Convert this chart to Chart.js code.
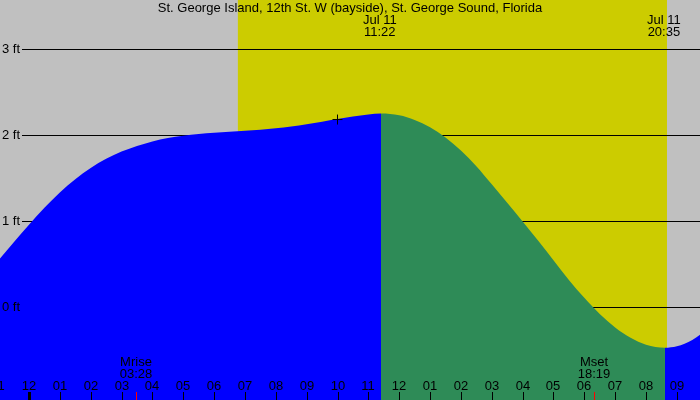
<!DOCTYPE html>
<html>
<head>
<meta charset="utf-8">
<script src="https://cdn.jsdelivr.net/npm/chart.js@4/dist/chart.umd.min.js"></script>
<style>
  body { margin: 0; background: #c0c0c0; }
  #wrap { width: 700px; height: 400px; }
</style>
</head>
<body>
<div id="wrap"><canvas id="tideChart"></canvas></div>
<script>
// tide height (ft) every half hour of Jul 11 (negative = previous evening), plus high/low tide
const tideHours = [-1, -0.5, 0, 0.5, 1, 1.5, 2, 2.5, 3, 3.5, 4, 4.5, 5, 5.5, 6, 6.5, 7, 7.5, 8, 8.5, 9, 9.5, 10, 10.5, 11, 11.41,
                   12, 12.5, 13, 13.5, 14, 14.5, 15, 15.5, 16, 16.5, 17, 17.5, 18, 18.5, 19, 19.5, 20, 20.615,
                   21, 21.5, 22];
const tideFeet  = [0.539, 0.751, 0.958, 1.155, 1.333, 1.487, 1.618, 1.723, 1.807, 1.873, 1.926, 1.965, 1.992, 2.011,
                   2.025, 2.037, 2.049, 2.062, 2.078, 2.099, 2.125, 2.155, 2.186, 2.214, 2.238, 2.25,
                   2.230, 2.176, 2.091, 1.972, 1.821, 1.638, 1.427, 1.212, 0.995, 0.773, 0.544, 0.315, 0.107,
                   -0.081, -0.237, -0.358, -0.438, -0.473,
                   -0.456, -0.383, -0.252];

const hourTicks  = [-1, 0, 1, 2, 3, 4, 5, 6, 7, 8, 9, 10, 11, 12, 13, 14, 15, 16, 17, 18, 19, 20, 21];
const hourLabels = ['11', '12', '01', '02', '03', '04', '05', '06', '07', '08', '09', '10', '11',
                    '12', '01', '02', '03', '04', '05', '06', '07', '08', '09'];
const feetTicks  = [0, 1, 2, 3];
const feetLabels = ['0 ft', '1 ft', '2 ft', '3 ft'];

const sunrise = 6.77, sunset = 20.68;
const tideEvents = [
    { hour: 11.37, date: 'Jul 11', time: '11:22' },
    { hour: 20.58, date: 'Jul 11', time: '20:35' }
];
const moonEvents = [
    { hour: 3.47, name: 'Mrise', time: '03:28' },
    { hour: 18.32, name: 'Mset', time: '18:19' }
];
const nowPoint = { x: 10, y: 2.18 };

const title = 'St. George Island, 12th St. W (bayside), St. George Sound, Florida';
const FONT = '13px "Liberation Sans", Arial, sans-serif';

const decor = {
    id: 'decor',
    beforeDatasetsDraw(chart) {
        const { ctx, chartArea: a, scales: { x, y } } = chart;
        ctx.save();
        ctx.fillStyle = '#cccc00';
        const x0 = x.getPixelForValue(sunrise), x1 = x.getPixelForValue(sunset);
        ctx.fillRect(x0, a.top, x1 - x0, a.bottom - a.top);
        ctx.strokeStyle = '#000';
        ctx.lineWidth = 1;
        feetTicks.forEach(v => {
            const py = Math.round(y.getPixelForValue(v)) + 0.5;
            ctx.beginPath();
            ctx.moveTo(22, py);
            ctx.lineTo(a.right, py);
            ctx.stroke();
        });
        ctx.restore();
    },
    afterDatasetsDraw(chart) {
        const { ctx, scales: { x, y } } = chart;
        ctx.save();
        ctx.font = FONT;
        ctx.fillStyle = '#000';
        ctx.textBaseline = 'middle';

        ctx.textAlign = 'left';
        feetTicks.forEach((v, i) => ctx.fillText(feetLabels[i], 2, y.getPixelForValue(v)));

        ctx.textAlign = 'center';
        ctx.fillText(title, 350, 8);
        tideEvents.forEach(e => {
            const px = x.getPixelForValue(e.hour);
            ctx.fillText(e.date, px, 20);
            ctx.fillText(e.time, px, 32);
        });

        hourTicks.forEach((h, i) => {
            const px = Math.round(x.getPixelForValue(h));
            ctx.fillStyle = '#000';
            ctx.fillText(hourLabels[i], px, 386);
            if (h === 0) ctx.fillRect(px - 1, 392, 3, 8);
            else ctx.fillRect(px, 392, 1, 8);
        });

        moonEvents.forEach(e => {
            const px = Math.round(x.getPixelForValue(e.hour));
            ctx.fillStyle = '#000';
            ctx.fillText(e.name, px, 362);
            ctx.fillText(e.time, px, 374);
            ctx.fillStyle = '#ff0000';
            ctx.fillRect(px, 392, 1, 8);
        });
        ctx.restore();
    }
};

new Chart(document.getElementById('tideChart'), {
    type: 'line',
    data: {
        datasets: [{
            data: tideHours.map((h, i) => ({ x: h, y: tideFeet[i] })),
            borderWidth: 0,
            pointRadius: 0,
            fill: 'start',
            backgroundColor: '#0000ff',
            cubicInterpolationMode: 'monotone',
            segment: {
                backgroundColor: c => c.p1.parsed.y >= c.p0.parsed.y ? '#0000ff' : '#2e8b57'
            }
        }, {
            data: [nowPoint],
            order: -1,
            showLine: false,
            pointStyle: 'cross',
            pointRadius: 5,
            borderColor: '#000',
            borderWidth: 1
        }]
    },
    options: {
        responsive: true,
        maintainAspectRatio: false,
        animation: false,
        layout: { padding: 0, autoPadding: false },
        scales: {
            x: { type: 'linear', min: -0.94, max: 21.75, display: false },
            y: { min: -1.081, max: 3.570, display: false }
        },
        plugins: {
            legend: { display: false },
            tooltip: { enabled: false }
        }
    },
    plugins: [decor]
});
</script>
</body>
</html>
